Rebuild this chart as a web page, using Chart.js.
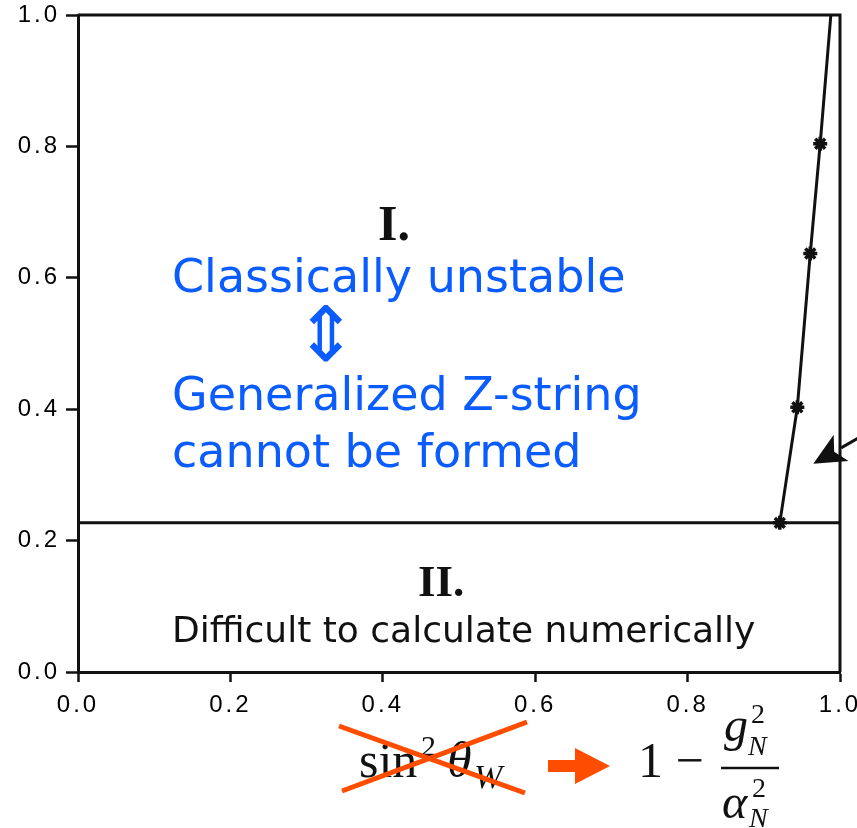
<!DOCTYPE html>
<html lang="en">
<head>
  <meta charset="UTF-8">
  <title>Z-string stability regions</title>
  <script src="https://cdn.jsdelivr.net/npm/chart.js"></script>
  <style>
    body { margin: 0; background: #fff; }
    #wrap { position: relative; width: 857px; height: 828px; overflow: hidden; }
    canvas { position: absolute; left: 0; top: 0; }
    .note { position: absolute; line-height: 1; white-space: nowrap; }
    .blue { font-family: "DejaVu Sans", sans-serif; font-size: 46px; color: #0a5cff; }
    .roman { font-family: "Liberation Serif", serif; font-weight: bold; color: #111; }
    .m { font-family: "Liberation Serif", serif; color: #111; }
    .i { font-style: italic; }
    svg { position: absolute; left: 0; top: 0; }
  </style>
</head>
<body>
<div id="wrap">
  <canvas id="chart" width="857" height="828"></canvas>

  <div class="note roman" style="left:378px; top:198px; font-size:50px;">I.</div>
  <div class="note blue" style="left:172px; top:253px;">Classically unstable</div>
  <div class="note blue" style="left:294px; top:297px; font-size:76px;">⇕</div>
  <div class="note blue" style="left:172px; top:371px;">Generalized Z-string</div>
  <div class="note blue" style="left:172px; top:428px;">cannot be formed</div>

  <div class="note roman" style="left:418px; top:559px; font-size:45px;">II.</div>
  <div class="note" style="left:172px; top:612px; font-family:'DejaVu Sans', sans-serif; font-size:36px; color:#111;">Difficult to calculate numerically</div>

  <!-- sin^2 theta_W -->
  <div class="note m" style="left:359px; top:735px; font-size:50px;">sin</div>
  <div class="note m" style="left:421px; top:731px; font-size:30px;">2</div>
  <div class="note m i" style="left:447px; top:735px; font-size:50px;">θ</div>
  <div class="note m i" style="left:474px; top:760px; font-size:34px;">W</div>

  <!-- 1 - g_N^2 / alpha_N^2 -->
  <div class="note m" style="left:638px; top:735px; font-size:50px;">1 −</div>
  <div class="note m i" style="left:724px; top:701px; font-size:48px;">g</div>
  <div class="note m" style="left:751px; top:700px; font-size:28px;">2</div>
  <div class="note m i" style="left:748px; top:732px; font-size:28px;">N</div>
  <div class="note m i" style="left:722px; top:778px; font-size:48px;">α</div>
  <div class="note m" style="left:752px; top:774px; font-size:28px;">2</div>
  <div class="note m i" style="left:749px; top:804px; font-size:28px;">N</div>

  <svg width="857" height="828">
    <line x1="721" y1="768" x2="779" y2="768" stroke="#111" stroke-width="2.5"/>
    <line x1="339" y1="726" x2="525" y2="793" stroke="#ff4d00" stroke-width="5"/>
    <line x1="342" y1="791" x2="527" y2="722" stroke="#ff4d00" stroke-width="5"/>
    <polygon points="548,760 575,760 575,748 610,766 575,784 575,772 548,772" fill="#ff4d00"/>
  </svg>
</div>

<script>
  // region boundary (points with star markers, last point only ends the line)
  const boundaryX = [0.921, 0.944, 0.961, 0.974, 0.988];
  const boundaryY = [0.227, 0.403, 0.637, 0.804, 1.0];
  const boundaryMarker = [7, 7, 7, 7, 0];

  // horizontal split between region I and II
  const splitX = [0.0, 1.0];
  const splitY = [0.227, 0.227];

  // axis range and ticks
  const axisMin = 0.0;
  const axisMax = 1.0;
  const tickStep = 0.2;

  // pointer arrow at the right edge (tip, tail in data units)
  const arrowTip = [0.965, 0.317];
  const arrowTail = [1.03, 0.36];

  const ink = "#111";

  const framePlugin = {
    id: "frame",
    beforeDraw(chart) {
      chart.ctx.letterSpacing = "3px";
    },
    afterDraw(chart) {
      const ctx = chart.ctx;
      const a = chart.chartArea;
      ctx.save();
      ctx.strokeStyle = ink;
      ctx.lineWidth = 3;
      ctx.beginPath();
      ctx.moveTo(a.left, a.top);
      ctx.lineTo(a.right, a.top);
      ctx.lineTo(a.right, a.bottom);
      ctx.stroke();

      // arrow
      const xs = chart.scales.x, ys = chart.scales.y;
      const tx = xs.getPixelForValue(arrowTip[0]), ty = ys.getPixelForValue(arrowTip[1]);
      const sx = xs.getPixelForValue(arrowTail[0]), sy = ys.getPixelForValue(arrowTail[1]);
      const ang = Math.atan2(sy - ty, sx - tx);
      const len = 32, half = 15;
      const bx = tx + Math.cos(ang) * len, by = ty + Math.sin(ang) * len;
      ctx.lineWidth = 3;
      ctx.beginPath();
      ctx.moveTo(sx, sy);
      ctx.lineTo(bx, by);
      ctx.stroke();
      ctx.fillStyle = ink;
      ctx.beginPath();
      ctx.moveTo(tx, ty);
      ctx.lineTo(bx - Math.sin(ang) * half, by + Math.cos(ang) * half);
      ctx.lineTo(tx + Math.cos(ang) * (len - 8), ty + Math.sin(ang) * (len - 8));
      ctx.lineTo(bx + Math.sin(ang) * half, by - Math.cos(ang) * half);
      ctx.closePath();
      ctx.fill();
      ctx.restore();
    }
  };

  const tickFont = { family: "Liberation Sans", size: 24 };

  new Chart(document.getElementById("chart"), {
    type: "scatter",
    data: {
      datasets: [
        {
          data: boundaryX.map((x, i) => ({ x: x, y: boundaryY[i] })),
          showLine: true,
          borderColor: ink,
          borderWidth: 3,
          pointStyle: "star",
          pointRadius: boundaryMarker,
          pointBorderWidth: 3.5,
          pointBorderColor: ink,
          pointBackgroundColor: ink
        },
        {
          data: splitX.map((x, i) => ({ x: x, y: splitY[i] })),
          showLine: true,
          borderColor: ink,
          borderWidth: 3,
          pointRadius: 0
        }
      ]
    },
    options: {
      responsive: false,
      animation: false,
      devicePixelRatio: 1,
      layout: { padding: { top: 15, right: 17, left: 0, bottom: 0 } },
      plugins: { legend: { display: false }, tooltip: { enabled: false } },
      scales: {
        x: {
          type: "linear", min: axisMin, max: axisMax,
          ticks: { stepSize: tickStep, callback: v => v.toFixed(1), color: "#000", font: tickFont, padding: 9, maxRotation: 0, autoSkip: false },
          grid: { drawOnChartArea: false, tickLength: 10, tickWidth: 2.5, tickColor: ink },
          border: { color: ink, width: 3 },
          afterFit: s => { s.height = 156; s.paddingLeft = 0; s.paddingRight = 0; }
        },
        y: {
          type: "linear", min: axisMin, max: axisMax,
          ticks: { stepSize: tickStep, callback: v => v.toFixed(1), color: "#000", font: tickFont, padding: 6 },
          grid: { drawOnChartArea: false, tickLength: 12, tickWidth: 2.5, tickColor: ink },
          border: { color: ink, width: 3 },
          afterFit: s => { s.width = 78; s.paddingTop = 0; s.paddingBottom = 0; }
        }
      }
    },
    plugins: [framePlugin]
  });
</script>
</body>
</html>
